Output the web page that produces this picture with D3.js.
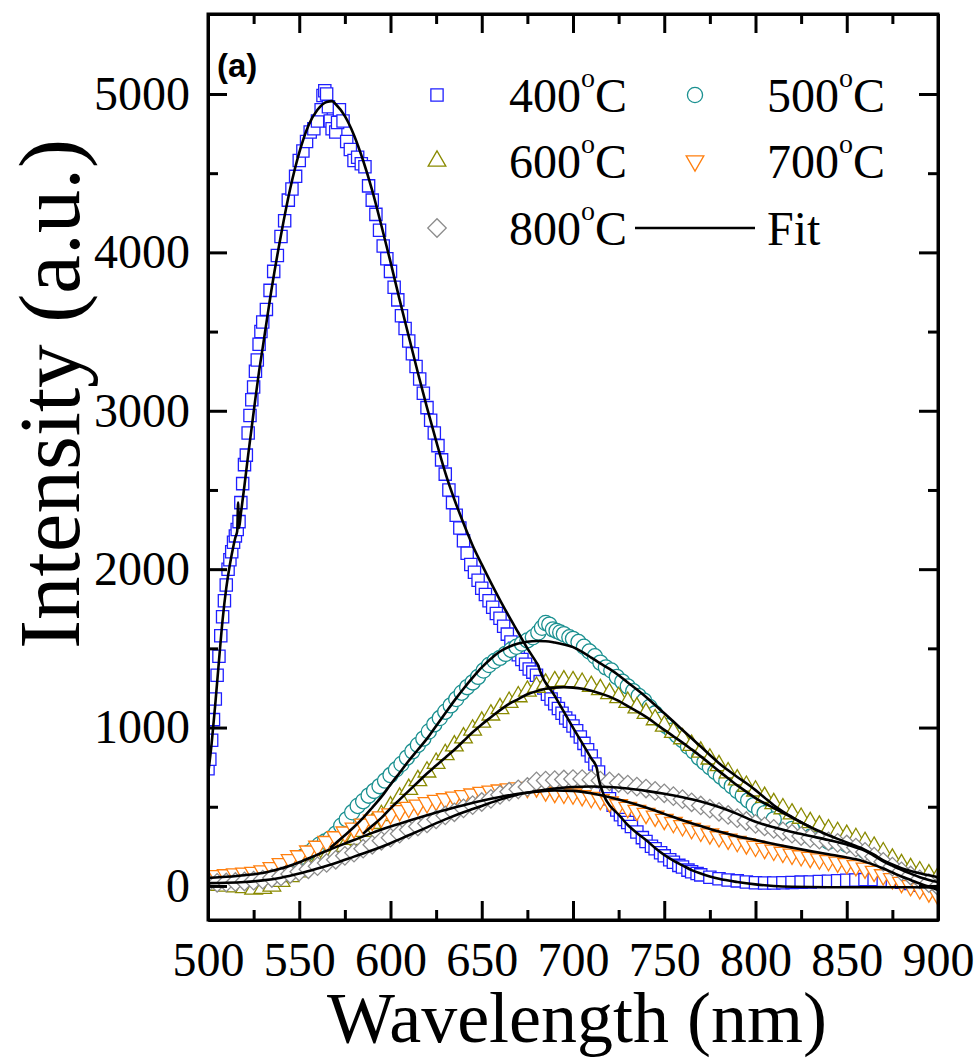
<!DOCTYPE html>
<html>
<head>
<meta charset="utf-8">
<script src="https://cdn.jsdelivr.net/npm/d3@7"></script>
<style>
    body { margin: 0; background: #ffffff; }
    .axis path, .axis line { stroke: #000; stroke-width: 3; }
    .axis text { font-family: "Liberation Serif", "Times New Roman", serif; font-size: 48px; fill: #000; }
</style>
</head>
<body>
<div id="pl"></div>
<script>
// Axis ticks
var wavelengthTicks = [500, 550, 600, 650, 700, 750, 800, 850, 900];
var wavelengthMinor = [525, 575, 625, 675, 725, 775, 825, 875];
var intensityTicks = [0, 1000, 2000, 3000, 4000, 5000];
var intensityMinor = [500, 1500, 2500, 3500, 4500];

// Annealing temperatures (legend order)
var temperatures = ["400", "500", "600", "700", "800"];

// Measured spectra, [wavelength nm, intensity a.u.]
var pl400 = [[500,740],[501,800],[502,920],[503,1050],[504,1180],[505,1330],[506,1450],[507,1580],[508,1700],[509,1800],[510,1900],[511,2000],[512,2060],[513,2110],[514,2170],[515,2210],[516,2250],[517,2300],[518,2420],[519,2540],[520,2660],[521,2720],[522,2860],[523,2970],[524,3070],[525,3150],[526,3250],[527,3320],[528,3420],[529,3500],[530,3560],[532,3640],[534,3760],[536,3880],[538,3980],[540,4100],[542,4200],[544,4330],[546,4400],[548,4480],[550,4580],[552,4640],[554,4700],[556,4760],[558,4780],[560,4830],[562,4900],[563,4990],[564,5020],[565,5000],[566,4920],[567,4830],[568,4780],[570,4760],[571,4820],[572,4900],[574,4830],[576,4700],[578,4650],[580,4580],[582,4600],[584,4560],[586,4540],[588,4420],[590,4330],[592,4240],[594,4140],[596,4040],[598,3960],[600,3880],[602,3780],[604,3700],[606,3600],[608,3520],[610,3440],[612,3360],[614,3280],[616,3200],[618,3110],[620,3020],[622,2940],[624,2860],[626,2780],[628,2690],[630,2600],[632,2500],[634,2420],[636,2340],[638,2260],[640,2180],[642,2100],[644,2030],[646,1980],[648,1930],[650,1880],[652,1840],[654,1800],[656,1760],[658,1720],[660,1690],[662,1640],[664,1590],[666,1540],[668,1500],[670,1460],[672,1430],[674,1400],[676,1370],[678,1350],[680,1330],[682,1290],[684,1250],[686,1210],[688,1180],[690,1150],[692,1120],[694,1090],[696,1060],[698,1040],[700,1010],[702,980],[704,940],[706,900],[708,860],[710,820],[712,770],[714,720],[716,660],[718,600],[720,550],[722,510],[724,480],[726,450],[728,420],[730,400],[732,375],[735,340],[738,305],[740,280],[743,250],[745,235],[748,210],[750,190],[753,165],[755,150],[758,130],[760,120],[763,100],[765,90],[768,78],[770,70],[775,55],[780,45],[785,38],[790,32],[795,25],[800,20],[805,18],[810,18],[815,20],[820,22],[825,24],[830,25],[835,28],[840,30],[845,33],[850,36],[855,38],[860,40],[865,40],[870,36],[875,30],[880,24],[885,15],[890,5],[895,-10],[900,-20]];
var pl500 = [[500,30],[505,35],[510,40],[515,45],[520,50],[525,60],[530,70],[535,90],[540,110],[543,125],[546,145],[549,165],[552,185],[555,210],[558,235],[561,260],[564,280],[567,300],[570,330],[573,380],[576,420],[579,465],[582,505],[585,535],[588,570],[591,600],[594,630],[597,665],[600,700],[603,735],[606,770],[609,810],[612,850],[615,890],[618,930],[621,975],[624,1020],[627,1060],[630,1100],[633,1140],[636,1180],[639,1220],[642,1255],[645,1285],[648,1320],[651,1360],[654,1395],[657,1420],[660,1440],[663,1465],[666,1490],[669,1510],[672,1530],[675,1550],[678,1570],[681,1600],[683,1630],[685,1660],[687,1650],[689,1620],[691,1610],[693,1600],[695,1590],[698,1570],[700,1560],[703,1540],[706,1510],[709,1480],[712,1450],[715,1410],[718,1380],[721,1360],[724,1320],[727,1290],[730,1260],[733,1230],[736,1200],[739,1170],[742,1130],[745,1090],[748,1050],[751,1010],[754,980],[757,950],[760,920],[763,880],[766,850],[769,810],[772,780],[775,750],[778,720],[781,690],[784,660],[787,630],[790,600],[793,570],[796,540],[799,510],[802,480],[805,460],[810,420],[820,360],[830,310],[840,280],[850,260],[860,220],[870,160],[880,100],[890,45],[900,0]];
var pl600 = [[500,10],[505,5],[510,0],[515,-5],[520,-10],[525,-20],[530,-15],[535,0],[540,30],[545,60],[550,90],[555,120],[560,150],[565,180],[570,215],[575,250],[580,295],[585,345],[590,395],[595,445],[600,500],[605,555],[610,610],[615,665],[620,720],[625,775],[630,830],[635,885],[640,935],[645,985],[650,1035],[655,1080],[660,1120],[665,1160],[670,1195],[675,1230],[680,1255],[685,1275],[690,1290],[695,1295],[700,1290],[705,1280],[710,1260],[715,1240],[720,1215],[725,1190],[730,1160],[735,1125],[740,1090],[745,1050],[750,1010],[755,970],[760,930],[765,888],[770,845],[775,802],[780,760],[785,715],[790,670],[795,630],[800,600],[805,560],[810,520],[815,488],[820,455],[825,428],[830,400],[835,378],[840,355],[845,338],[850,320],[855,300],[860,275],[865,245],[870,210],[875,170],[880,135],[885,110],[890,90],[895,70],[900,55]];
var pl700 = [[500,60],[505,65],[510,70],[515,75],[520,80],[525,85],[530,95],[535,115],[540,140],[545,165],[550,190],[555,220],[560,250],[565,280],[570,310],[575,340],[580,365],[585,390],[590,415],[595,435],[600,455],[605,475],[610,495],[615,510],[620,525],[625,540],[630,550],[635,560],[640,570],[645,580],[650,590],[655,598],[660,605],[665,612],[670,618],[675,622],[680,625],[685,600],[690,590],[695,585],[700,580],[705,570],[710,558],[715,545],[720,530],[725,512],[730,495],[735,477],[740,458],[745,440],[750,420],[755,400],[760,380],[765,362],[770,345],[775,328],[780,310],[785,295],[790,280],[795,265],[800,250],[805,237],[810,225],[815,212],[820,200],[825,190],[830,180],[835,170],[840,160],[845,150],[850,140],[855,128],[860,112],[865,92],[870,70],[875,45],[880,22],[885,2],[890,-18],[895,-38],[900,-58]];
var pl800 = [[500,20],[505,20],[510,22],[515,25],[520,28],[525,33],[530,40],[535,50],[540,60],[545,75],[550,90],[555,105],[560,125],[565,145],[570,165],[575,190],[580,210],[585,235],[590,260],[595,285],[600,305],[605,330],[610,355],[615,375],[620,395],[625,420],[630,445],[635,465],[640,490],[645,510],[650,530],[655,550],[660,575],[665,595],[670,610],[675,625],[680,660],[685,665],[690,668],[695,672],[700,675],[705,675],[710,670],[715,665],[720,660],[725,650],[730,640],[735,627],[740,615],[745,600],[750,585],[755,567],[760,548],[765,528],[770,508],[775,488],[780,468],[785,448],[790,428],[795,410],[800,392],[805,376],[810,360],[815,345],[820,330],[825,315],[830,302],[835,292],[840,282],[845,272],[850,262],[855,242],[860,215],[865,185],[870,152],[875,122],[880,92],[885,66],[890,42],[895,18],[900,-2]];

// Fitted curves, [wavelength nm, intensity a.u.]
var fit400 = [[500,700],[502,900],[504,1150],[506,1420],[508,1680],[510,1880],[512,2030],[514,2150],[515,2200],[516,2240],[516.5,2420],[517,2260],[518,2350],[520,2530],[522,2720],[524,2900],[526,3080],[528,3250],[530,3400],[535,3780],[540,4110],[545,4400],[550,4630],[555,4800],[560,4900],[565,4950],[568,4955],[570,4935],[575,4860],[580,4740],[585,4580],[590,4390],[595,4170],[600,3940],[605,3700],[610,3470],[615,3240],[620,3020],[625,2810],[630,2610],[635,2440],[640,2290],[645,2150],[650,2030],[655,1915],[660,1805],[665,1700],[670,1600],[675,1500],[680,1410],[681,1390],[682,1355],[690,1200],[700,1000],[710,805],[713,745],[714,680],[716,600],[718,545],[720,510],[725,450],[730,385],[735,335],[740,290],[745,240],[750,196],[755,160],[760,130],[765,100],[770,78],[775,60],[780,45],[790,25],[800,10],[810,0],[820,-5],[840,-8],[860,-8],[880,-8],[900,-10]];
var fit500 = [[567,240],[570,270],[575,320],[580,372],[585,430],[590,495],[595,562],[600,640],[605,715],[610,790],[615,860],[620,930],[625,1010],[630,1090],[635,1170],[640,1245],[645,1315],[650,1380],[655,1435],[660,1480],[665,1510],[670,1530],[675,1542],[680,1546],[685,1545],[690,1537],[695,1525],[700,1508],[705,1478],[710,1442],[715,1405],[720,1370],[725,1330],[730,1285],[735,1240],[740,1193],[745,1142],[750,1090],[755,1038],[760,985],[765,932],[770,880],[775,827],[780,775],[785,730],[790,688],[795,648],[800,605],[805,557],[810,510],[815,470],[820,435],[825,402],[830,372]];
var fit600 = [[585,330],[590,380],[595,430],[600,490],[605,545],[610,600],[615,655],[620,710],[625,760],[630,810],[635,860],[640,915],[645,970],[650,1020],[655,1065],[660,1110],[665,1150],[670,1180],[675,1210],[680,1230],[685,1245],[690,1252],[695,1255],[700,1252],[705,1245],[710,1232],[715,1215],[720,1195],[725,1168],[730,1135],[735,1102],[740,1067],[745,1027],[750,985],[755,945],[760,905],[765,862],[770,818],[775,772],[780,725],[785,680],[790,635],[795,595],[800,555],[805,522],[810,492],[815,462],[820,432],[825,402],[830,372],[835,345],[840,320],[845,297],[850,275],[855,252],[860,228],[865,197],[870,162],[875,135],[880,112],[885,95],[890,80],[895,67],[900,55]];
var fit700 = [[500,50],[510,58],[520,68],[530,82],[540,110],[550,150],[560,198],[570,245],[580,290],[590,335],[600,375],[610,412],[620,447],[630,480],[640,510],[650,538],[660,562],[670,582],[680,595],[690,603],[700,600],[710,585],[720,560],[730,530],[740,495],[750,455],[760,415],[770,378],[780,343],[790,313],[800,290],[810,265],[820,242],[830,220],[840,200],[850,180],[855,168],[860,152],[865,133],[870,110],[875,85],[880,60],[885,38],[890,15],[895,-5],[900,-25]];
var fit800 = [[500,18],[510,20],[520,25],[530,35],[540,52],[550,78],[560,110],[570,145],[580,185],[590,225],[600,270],[610,320],[620,370],[630,420],[640,465],[650,505],[660,545],[670,578],[680,600],[690,615],[700,625],[710,628],[720,625],[730,615],[740,600],[750,582],[760,560],[770,533],[780,498],[790,455],[800,405],[810,370],[820,340],[830,315],[840,290],[850,262],[855,243],[860,222],[865,190],[870,155],[875,128],[880,102],[885,78],[890,55],[895,38],[900,25]];

var spectra = [pl400, pl500, pl600, pl700, pl800];
var fits = [fit400, fit500, fit600, fit700, fit800];

/**
 * PL spectra chart
 */
var width = 979,
    height = 1058,
    margin = {top: 14, right: 41, bottom: 138, left: 208},
    chartWidth = width - margin.left - margin.right,
    chartHeight = height - margin.top - margin.bottom,
    // marker stroke colours, one per temperature
    colours = ["#1f1fff", "#1a9090", "#8a8a00", "#ff7f0e", "#8c8c8c"],
    // marker shapes: square, circle, up triangle, down triangle, diamond
    shapes = [d3.symbolSquare, d3.symbolCircle, d3.symbolTriangle, d3.symbolTriangle, d3.symbolSquare],
    sizes = [150, 180, 135, 135, 170],
    rotations = [0, 0, 0, 180, 45],
    serif = '"Liberation Serif", "Times New Roman", serif';

var x = d3.scaleLinear().domain([500, 900]).range([0, chartWidth]),
    y = d3.scaleLinear().domain([-215, 5505]).range([chartHeight, 0]);

var svg = d3.select("#pl").append("svg")
    .attr("width", width)
    .attr("height", height)
    .style("background", "#fff");

var g = svg.append("g")
    .attr("transform", "translate(" + margin.left + "," + margin.top + ")");

g.append("clipPath").attr("id", "plotArea")
    .append("rect")
    .attr("width", chartWidth)
    .attr("height", chartHeight);

var markerFor = function (i) {
    return d3.symbol().type(shapes[i]).size(sizes[i])();
};

//Adding the measured points, one layer per temperature
var dataLayer = g.append("g").attr("clip-path", "url(#plotArea)");

spectra.forEach(function (series, i) {
    dataLayer.append("g")
        .selectAll("path")
        .data(series)
        .enter().append("path")
        .attr("d", markerFor(i))
        .attr("transform", function (d) {
            return "translate(" + x(d[0]) + "," + y(d[1]) + ") rotate(" + rotations[i] + ")";
        })
        .style("fill", "#fff")
        .style("stroke", colours[i])
        .style("stroke-width", 1.3);
});

//Adding the fit curves on top
var fitLine = d3.line()
    .x(function (d) { return x(d[0]); })
    .y(function (d) { return y(d[1]); })
    .curve(d3.curveMonotoneX);

dataLayer.selectAll(".fit")
    .data(fits)
    .enter().append("path")
    .attr("class", "fit")
    .attr("d", fitLine)
    .style("fill", "none")
    .style("stroke", "#000")
    .style("stroke-width", 2.6);

//Axes: major ticks with labels, minor ticks, mirrored on top and right
var tickLen = 19, minorLen = 10;

var addAxis = function (axis, transform) {
    return g.append("g")
        .attr("class", "axis")
        .attr("transform", transform || null)
        .call(axis);
};

addAxis(d3.axisBottom(x).tickValues(wavelengthTicks).tickSize(-tickLen).tickSizeOuter(0).tickPadding(22).tickFormat(d3.format("d")), "translate(0," + chartHeight + ")");
addAxis(d3.axisBottom(x).tickValues(wavelengthMinor).tickSize(-minorLen).tickSizeOuter(0).tickFormat(""), "translate(0," + chartHeight + ")");
addAxis(d3.axisTop(x).tickValues(wavelengthTicks).tickSize(-tickLen).tickSizeOuter(0).tickFormat(""));
addAxis(d3.axisTop(x).tickValues(wavelengthMinor).tickSize(-minorLen).tickSizeOuter(0).tickFormat(""));

addAxis(d3.axisLeft(y).tickValues(intensityTicks).tickSize(-tickLen).tickSizeOuter(0).tickPadding(18).tickFormat(d3.format("d")));
addAxis(d3.axisLeft(y).tickValues(intensityMinor).tickSize(-minorLen).tickSizeOuter(0).tickFormat(""));
addAxis(d3.axisRight(y).tickValues(intensityTicks).tickSize(-tickLen).tickSizeOuter(0).tickFormat(""), "translate(" + chartWidth + ",0)");
addAxis(d3.axisRight(y).tickValues(intensityMinor).tickSize(-minorLen).tickSizeOuter(0).tickFormat(""), "translate(" + chartWidth + ",0)");

// close the frame corners
g.append("rect")
    .attr("width", chartWidth)
    .attr("height", chartHeight)
    .style("fill", "none")
    .style("stroke", "#000")
    .style("stroke-width", 3);

//Axis titles
svg.append("text")
    .attr("x", margin.left + chartWidth / 2 + 4)
    .attr("y", 1042)
    .attr("text-anchor", "middle")
    .style("font-family", serif)
    .style("font-size", "72px")
    .text("Wavelength (nm)");

svg.append("text")
    .attr("transform", "translate(79,394) rotate(-90)")
    .attr("text-anchor", "middle")
    .style("font-family", serif)
    .style("font-size", "87px")
    .text("Intensity (a.u.)");

// panel label
svg.append("text")
    .attr("x", 217)
    .attr("y", 77)
    .style("font-family", '"Liberation Sans", Arial, sans-serif')
    .style("font-weight", "bold")
    .style("font-size", "33px")
    .text("(a)");

// cropped title of the neighbouring panel
svg.append("text")
    .attr("transform", "translate(1004,205) rotate(-90)")
    .attr("text-anchor", "middle")
    .style("font-family", serif)
    .style("font-size", "34px")
    .text("PL Peak (nm)");

//Legend
var legendPos = [[437, 95], [695, 95], [437, 161], [695, 161], [437, 228]];
var legend = svg.append("g");

temperatures.forEach(function (t, i) {
    var p = legendPos[i];
    legend.append("path")
        .attr("d", markerFor(i))
        .attr("transform", "translate(" + p[0] + "," + p[1] + ") rotate(" + rotations[i] + ")")
        .style("fill", "#fff")
        .style("stroke", colours[i])
        .style("stroke-width", 1.3);

    var label = legend.append("text")
        .attr("x", p[0] + 72)
        .attr("y", p[1] + 17)
        .style("font-family", serif)
        .style("font-size", "48px");
    label.append("tspan").text(t);
    label.append("tspan").attr("dy", -25).style("font-size", "28px").text("o");
    label.append("tspan").attr("dy", 25).text("C");
});

legend.append("line")
    .attr("x1", 635).attr("x2", 755)
    .attr("y1", 228).attr("y2", 228)
    .style("stroke", "#000")
    .style("stroke-width", 2.6);

legend.append("text")
    .attr("x", 767)
    .attr("y", 245)
    .style("font-family", serif)
    .style("font-size", "48px")
    .text("Fit");
</script>
</body>
</html>
